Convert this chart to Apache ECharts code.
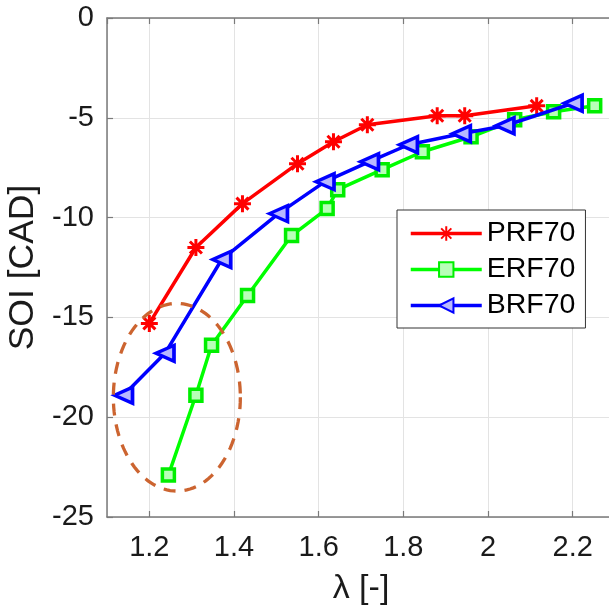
<!DOCTYPE html>
<html>
<head>
<meta charset="utf-8">
<script src="https://cdn.jsdelivr.net/npm/echarts@6/dist/echarts.min.js"></script>
<style>
html,body{margin:0;padding:0;background:#fff;}
#c{width:609px;height:609px;}
</style>
</head>
<body>
<div id="c"></div>
<script>
// ---- data ----
const prfLambda = [1.20, 1.31, 1.42, 1.55, 1.635, 1.715, 1.88, 1.945, 2.115];
const prfSOI    = [-15.3, -11.5, -9.3, -7.3, -6.2, -5.35, -4.9, -4.9, -4.4];
const erfLambda = [1.245, 1.31, 1.347, 1.432, 1.536, 1.62, 1.645, 1.75, 1.845, 1.96, 2.063, 2.155, 2.252];
const erfSOI    = [-22.9, -18.9, -16.4, -13.9, -10.9, -9.55, -8.6, -7.6, -6.7, -5.95, -5.1, -4.7, -4.4];
const brfLambda = [1.139, 1.237, 1.371, 1.505, 1.615, 1.72, 1.812, 1.937, 2.04, 2.201];
const brfSOI    = [-18.9, -16.8, -12.1, -9.8, -8.2, -7.2, -6.35, -5.8, -5.4, -4.27];
const seriesNames = ['PRF70', 'ERF70', 'BRF70'];
const xTickValues = [1.2, 1.4, 1.6, 1.8, 2, 2.2];
const yTickValues = [-25, -20, -15, -10, -5, 0];
// annotation ellipse (data units): centre and radii
const ellipseCenter = [1.265, -19.0];
const ellipseRadii = [0.15, 4.7];

const pairs = (xs, ys) => xs.map((x, i) => [x, ys[i]]);
const FONT = 'Liberation Sans, Arial, Helvetica, sans-serif';
const axisGray = '#7a7a7a';
const textColor = '#1a1a1a';

const chart = echarts.init(document.getElementById('c'), null, {renderer: 'canvas'});
const asterisk = 'path://M0,-10L0,10M-10,0L10,0M-7.07,-7.07L7.07,7.07M-7.07,7.07L7.07,-7.07';

const option = {
  backgroundColor: '#fff',
  animation: false,
  grid: {left: 107, top: 18, right: -6, bottom: 92, show: false, containLabel: false, outerBoundsMode: 'none'},
  legend: {
    orient: 'vertical',
    left: 397, top: 210,
    padding: [9, 10, 8, 12],
    itemWidth: 71, itemHeight: 18, itemGap: 7,
    backgroundColor: '#fff',
    borderColor: '#333', borderWidth: 1, borderRadius: 0,
    lineStyle: {width: 3.5},
    textStyle: {fontFamily: FONT, fontSize: 28.5, color: '#000', lineHeight: 28},
    data: seriesNames
  },
  xAxis: [{
    type: 'value', min: 1.1, max: 2.3, splitNumber: 6,
    name: 'λ [-]', nameLocation: 'middle', nameGap: 55,
    nameTextStyle: {fontFamily: FONT, fontSize: 34, color: textColor},
    axisLine: {show: true, onZero: false, lineStyle: {color: axisGray, width: 1.5}},
    axisTick: {show: true, inside: true, length: 6, lineStyle: {color: axisGray, width: 1.2}},
    axisLabel: {
      show: true, showMinLabel: false, showMaxLabel: false, margin: 16,
      fontFamily: FONT, fontSize: 29, color: textColor,
      formatter: v => xTickValues.some(t => Math.abs(t - v) < 1e-6) ? String(+v.toFixed(1)) : ''
    },
    splitLine: {show: true, lineStyle: {color: '#e3e3e3', width: 1}}
  }, {
    type: 'value', min: 1.1, max: 2.3, splitNumber: 6, position: 'top',
    axisLine: {show: true, onZero: false, lineStyle: {color: axisGray, width: 1.5}},
    axisTick: {show: true, inside: true, length: 6, lineStyle: {color: axisGray, width: 1.2}},
    axisLabel: {show: false},
    splitLine: {show: false}
  }],
  yAxis: [{
    type: 'value', min: -25, max: 0, interval: 5,
    name: 'SOI [CAD]', nameLocation: 'middle', nameGap: 62, nameRotate: 90,
    nameTextStyle: {fontFamily: FONT, fontSize: 35.5, color: textColor},
    axisLine: {show: true, onZero: false, lineStyle: {color: axisGray, width: 1.5}},
    axisTick: {show: true, inside: true, length: 6, lineStyle: {color: axisGray, width: 1.2}},
    axisLabel: {show: true, margin: 13, fontFamily: FONT, fontSize: 29, color: textColor,
      formatter: v => yTickValues.includes(v) ? String(v) : ''},
    splitLine: {show: true, lineStyle: {color: '#e3e3e3', width: 1}}
  }, {
    type: 'value', min: -25, max: 0, interval: 5, position: 'right',
    axisLine: {show: true, onZero: false, lineStyle: {color: axisGray, width: 1.5}},
    axisTick: {show: true, inside: true, length: 6},
    axisLabel: {show: false}, splitLine: {show: false}
  }],
  series: [{
    name: seriesNames[0], type: 'line', data: pairs(prfLambda, prfSOI),
    symbol: asterisk, symbolSize: 17,
    lineStyle: {color: '#ff0000', width: 3.5},
    itemStyle: {color: '#ff0000', borderColor: '#ff0000', borderWidth: 3},
    z: 3
  }, {
    name: seriesNames[1], type: 'line', data: pairs(erfLambda, erfSOI),
    symbol: 'rect', symbolSize: 12,
    lineStyle: {color: '#00ff00', width: 3.5},
    itemStyle: {color: '#b8ffb8', borderColor: '#00ee00', borderWidth: 3.5},
    z: 2
  }, {
    name: seriesNames[2], type: 'line', data: pairs(brfLambda, brfSOI),
    symbol: 'triangle', symbolSize: [16, 18], symbolRotate: 90,
    lineStyle: {color: '#0000ff', width: 3.5},
    itemStyle: {color: '#b8b8ff', borderColor: '#0000ff', borderWidth: 3.5},
    z: 4
  }]
};
chart.setOption(option);

// annotation dashed ellipse converted from data units to pixels
const c = chart.convertToPixel({gridIndex: 0}, ellipseCenter);
const e = chart.convertToPixel({gridIndex: 0}, [ellipseCenter[0] + ellipseRadii[0], ellipseCenter[1] + ellipseRadii[1]]);
const rx = Math.abs(e[0] - c[0]), ry = Math.abs(e[1] - c[1]);
const pts = [];
for (let k = 0; k < 120; k++) {
  const t = (k / 120) * Math.PI * 2;
  pts.push([c[0] + rx * Math.cos(t), c[1] + ry * Math.sin(t)]);
}
chart.setOption({
  graphic: [{
    type: 'polygon', z: 100, silent: true,
    shape: {points: pts},
    style: {fill: 'none', stroke: '#cc6430', lineWidth: 3.3, lineDash: [12, 9]}
  }]
});
</script>
</body>
</html>
